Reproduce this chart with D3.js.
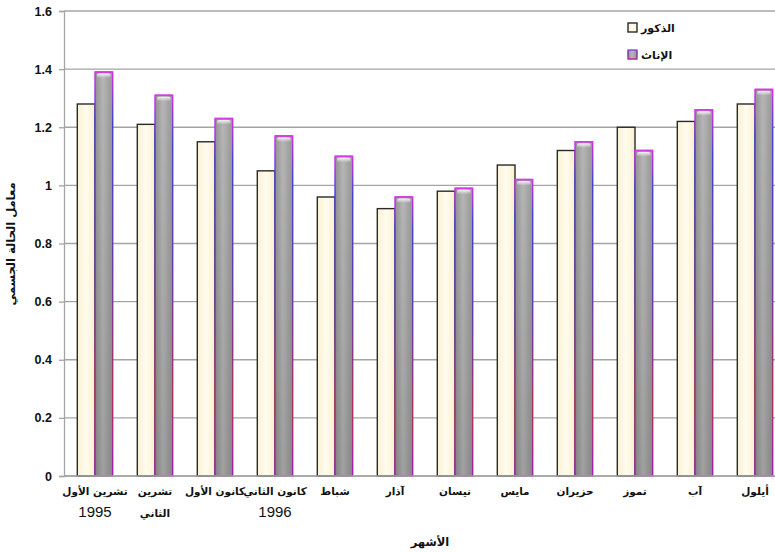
<!DOCTYPE html>
<html>
<head>
<meta charset="utf-8">
<script src="https://cdn.jsdelivr.net/npm/d3@7"></script>
<style>
  body { margin: 0; background: #fff; }
  svg { display: block; }
</style>
</head>
<body>
<svg id="chart" width="775" height="552"></svg>
<script>
// Monthly condition factor, males vs females
const months = ["تشرين الأول 1995", "تشرين الثاني", "كانون الأول", "كانون الثاني 1996", "شباط", "آذار",
                "نيسان", "مايس", "حزيران", "تموز", "آب", "أيلول"];
const monthLines = [["تشرين الأول", "1995"], ["تشرين", "الثاني"], ["كانون الأول"], ["كانون الثاني", "1996"],
                    ["شباط"], ["آذار"], ["نيسان"], ["مايس"], ["حزيران"], ["تموز"], ["آب"], ["أيلول"]];
const males   = [1.28, 1.21, 1.15, 1.05, 0.96, 0.92, 0.98, 1.07, 1.12, 1.20, 1.22, 1.28];
const females = [1.39, 1.31, 1.23, 1.17, 1.10, 0.96, 0.99, 1.02, 1.15, 1.12, 1.26, 1.33];
const seriesNames = ["الذكور", "الإناث"];
const yTicks = [0, 0.2, 0.4, 0.6, 0.8, 1, 1.2, 1.4, 1.6];
const yTitle = "معامل الحالة الجسمي";
const xTitle = "الأشهر";

const svg = d3.select("#chart");
const plot = { left: 64, right: 775, top: 11, bottom: 476 };

const x = d3.scaleBand().domain(months).range([65, 785]).paddingInner(0.41).paddingOuter(0.205);
const xs = d3.scaleBand().domain(seriesNames).range([0, x.bandwidth()]);
const y = d3.scaleLinear().domain([0, 1.6]).range([plot.bottom, plot.top]);

// gradients
const defs = svg.append("defs");
const cream = defs.append("linearGradient").attr("id", "cream").attr("x1", 0).attr("x2", 1).attr("y1", 0).attr("y2", 0);
cream.append("stop").attr("offset", "0%").attr("stop-color", "#fbf1d2");
cream.append("stop").attr("offset", "50%").attr("stop-color", "#fffcee");
cream.append("stop").attr("offset", "100%").attr("stop-color", "#faf0d0");

const grayH = defs.append("linearGradient").attr("id", "grayH").attr("x1", 0).attr("x2", 1).attr("y1", 0).attr("y2", 0);
grayH.append("stop").attr("offset", "0%").attr("stop-color", "#929292");
grayH.append("stop").attr("offset", "45%").attr("stop-color", "#b6b6b6");
grayH.append("stop").attr("offset", "100%").attr("stop-color", "#969696");

const grayV = defs.append("linearGradient").attr("id", "grayV").attr("x1", 0).attr("x2", 0).attr("y1", 0).attr("y2", 1);
grayV.append("stop").attr("offset", "0%").attr("stop-color", "#000").attr("stop-opacity", 0);
grayV.append("stop").attr("offset", "100%").attr("stop-color", "#000").attr("stop-opacity", 0.12);

const edge = defs.append("linearGradient").attr("id", "edge").attr("x1", 0).attr("x2", 0).attr("y1", 0).attr("y2", 1);
edge.append("stop").attr("offset", "0%").attr("stop-color", "#d030e0");
edge.append("stop").attr("offset", "12%").attr("stop-color", "#4040d8");
edge.append("stop").attr("offset", "50%").attr("stop-color", "#6a3aa0");
edge.append("stop").attr("offset", "80%").attr("stop-color", "#b03060");
edge.append("stop").attr("offset", "100%").attr("stop-color", "#a020b0");

const shine = defs.append("linearGradient").attr("id", "shine").attr("x1", 0).attr("x2", 0).attr("y1", 0).attr("y2", 1);
shine.append("stop").attr("offset", "0%").attr("stop-color", "#fff").attr("stop-opacity", 0.85);
shine.append("stop").attr("offset", "100%").attr("stop-color", "#fff").attr("stop-opacity", 0);

// gridlines
svg.append("g").selectAll("line").data(yTicks).join("line")
  .attr("x1", plot.left).attr("x2", plot.right)
  .attr("y1", d => y(d)).attr("y2", d => y(d))
  .attr("stroke", "#a4a4a4").attr("stroke-width", 1.3);

// y axis
const yAxis = svg.append("g").attr("transform", `translate(${plot.left},0)`)
  .call(d3.axisLeft(y).tickValues(yTicks).tickSize(5).tickPadding(7).tickFormat(d => d3.format("")(d)));
yAxis.select(".domain").attr("stroke", "#a4a4a4").attr("stroke-width", 1.3);
yAxis.selectAll(".tick line").attr("stroke", "#a4a4a4").attr("stroke-width", 1.3);
yAxis.selectAll(".tick text").attr("font-family", "Liberation Sans, Arial, sans-serif")
  .attr("font-size", 12.5).attr("font-weight", "bold").attr("fill", "#111");

// bars
const rows = months.map((m, i) => ({ m, vals: [males[i], females[i]] }));
const groups = svg.append("g").selectAll("g").data(rows).join("g")
  .attr("transform", d => `translate(${x(d.m)},0)`);

groups.append("rect")
  .attr("x", xs(seriesNames[0])).attr("width", xs.bandwidth())
  .attr("y", d => y(d.vals[0])).attr("height", d => y(0) - y(d.vals[0]))
  .attr("fill", "url(#cream)").attr("stroke", "#2a2a2a").attr("stroke-width", 1.4);

groups.append("rect")
  .attr("x", xs(seriesNames[1])).attr("width", xs.bandwidth())
  .attr("y", d => y(d.vals[1])).attr("height", d => y(0) - y(d.vals[1]))
  .attr("fill", "url(#grayH)");
groups.append("rect")
  .attr("x", xs(seriesNames[1])).attr("width", xs.bandwidth())
  .attr("y", d => y(d.vals[1])).attr("height", d => y(0) - y(d.vals[1]))
  .attr("fill", "url(#grayV)").attr("stroke", "url(#edge)").attr("stroke-width", 1.4);
groups.append("rect")
  .attr("x", xs(seriesNames[1]) + 2).attr("width", xs.bandwidth() - 4)
  .attr("y", d => y(d.vals[1]) + 1.5).attr("height", 4.5)
  .attr("rx", 2)
  .attr("fill", "url(#shine)");
groups.append("line")
  .attr("x1", xs(seriesNames[1])).attr("x2", xs(seriesNames[1]) + xs.bandwidth())
  .attr("y1", d => y(d.vals[1])).attr("y2", d => y(d.vals[1]))
  .attr("stroke", "#d43ce4").attr("stroke-width", 1.6);

// baseline
svg.append("line").attr("x1", plot.left).attr("x2", plot.right)
  .attr("y1", y(0)).attr("y2", y(0)).attr("stroke", "#a4a4a4").attr("stroke-width", 1.3);

// category labels
const labels = svg.append("g").selectAll("text").data(rows).join("text")
  .attr("x", d => x(d.m) + x.bandwidth() / 2)
  .attr("y", 495)
  .attr("text-anchor", "middle")
  .attr("fill", "#111");
labels.each(function (d, i) {
  const t = d3.select(this);
  monthLines[i].forEach((line, k) => {
    const isNum = /^\d+$/.test(line);
    t.append("tspan")
      .attr("x", x(d.m) + x.bandwidth() / 2)
      .attr("dy", k === 0 ? 0 : 22)
      .attr("font-family", isNum ? "Liberation Sans, Arial, sans-serif" : "DejaVu Sans, sans-serif")
      .attr("font-size", isNum ? 15 : 10.5)
      .attr("font-weight", isNum ? "normal" : "bold")
      .text(line);
  });
});

// axis titles
svg.append("text").attr("x", 430).attr("y", 546).attr("text-anchor", "middle")
  .attr("font-family", "DejaVu Sans, sans-serif").attr("font-size", 11.5).attr("font-weight", "bold")
  .attr("fill", "#111").text(xTitle);
svg.append("text").attr("transform", "translate(15,244) rotate(-90)").attr("text-anchor", "middle")
  .attr("font-family", "DejaVu Sans, sans-serif").attr("font-size", 11.5).attr("font-weight", "bold")
  .attr("fill", "#111").text(yTitle);

// legend
const legend = svg.append("g").selectAll("g").data(seriesNames).join("g")
  .attr("transform", (d, i) => `translate(628,${23 + i * 27})`);
legend.append("rect").attr("width", 9).attr("height", 9)
  .attr("fill", (d, i) => i === 0 ? "url(#cream)" : "url(#grayH)")
  .attr("stroke", (d, i) => i === 0 ? "#2a2a2a" : "url(#edge)").attr("stroke-width", 1.4);
legend.append("text").attr("x", 13).attr("y", 8.5)
  .attr("font-family", "DejaVu Sans, sans-serif").attr("font-size", 11).attr("font-weight", "bold")
  .attr("fill", "#111").text(d => d);
</script>
</body>
</html>
